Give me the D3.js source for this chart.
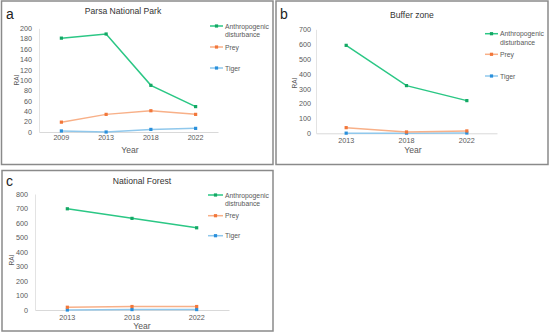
<!DOCTYPE html>
<html>
<head>
<meta charset="utf-8">
<script src="https://cdn.jsdelivr.net/npm/d3@7"></script>
<style>
  body { margin: 0; background: #fff; }
  svg { display: block; font-family: "Liberation Sans", Arial, sans-serif; }
</style>
</head>
<body>
<svg id="chart" width="550" height="334"></svg>
<script>
// Three RAI panels: Parsa NP, buffer zone, national forest.

const yearsA = ["2009", "2013", "2018", "2022"];
const anthroA = [181, 189, 90, 49];
const preyA = [19, 34, 41, 34];
const tigerA = [2, 0, 5, 7];
const ticksA = [0, 20, 40, 60, 80, 100, 120, 140, 160, 180, 200];

const yearsB = ["2013", "2018", "2022"];
const anthroB = [592, 321, 220];
const preyB = [38, 9, 16];
const tigerB = [1, 1, 2];
const ticksB = [0, 100, 200, 300, 400, 500, 600, 700];

const yearsC = ["2013", "2018", "2022"];
const anthroC = [698, 632, 567];
const preyC = [19, 24, 24];
const tigerC = [0, 3, 3];
const ticksC = [0, 100, 200, 300, 400, 500, 600, 700, 800];

const seriesStyle = {
  anthro: { line: "#2bc785", mark: "#13a864" },
  prey: { line: "#f8b088", mark: "#f2773a" },
  tiger: { line: "#90c8ec", mark: "#2a90dc" },
};

const panels = [
  {
    letter: "a", title: "Parsa National Park",
    years: yearsA, anthro: anthroA, prey: preyA, tiger: tigerA, ticks: ticksA,
    legendWords: ["Anthropogenic", "disturbance"],
    frame: [1.5, 1, 271.5, 163.5],
    plot: { left: 39, right: 218, top: 28.3, bottom: 132 },
    letterPos: [6, 19], titlePos: [123, 14], yearPos: [130, 153], xLabY: 140,
    raiPos: [16, 80], tickRight: 32,
    legend: { x0: 210, x1: 223, tx: 225, rows: [26, 34, 47, 68] },
  },
  {
    letter: "b", title: "Buffer zone",
    years: yearsB, anthro: anthroB, prey: preyB, tiger: tigerB, ticks: ticksB,
    legendWords: ["Anthropogenic", "disturbance"],
    frame: [276, 1, 272, 163.5],
    plot: { left: 316, right: 497, top: 29.3, bottom: 133.3 },
    letterPos: [280, 19], titlePos: [412, 18], yearPos: [413, 153], xLabY: 143,
    raiPos: [294, 83], tickRight: 311,
    legend: { x0: 485, x1: 498, tx: 500, rows: [33.7, 42.3, 54.3, 76] },
  },
  {
    letter: "c", title: "National Forest",
    years: yearsC, anthro: anthroC, prey: preyC, tiger: tigerC, ticks: ticksC,
    legendWords: ["Anthropogenic", "distrubance"],
    frame: [2, 170.5, 271, 160.5],
    plot: { left: 35, right: 229, top: 194, bottom: 310 },
    letterPos: [6, 186], titlePos: [142, 184], yearPos: [142, 328.5], xLabY: 319.5,
    raiPos: [11, 260], tickRight: 28,
    legend: { x0: 208, x1: 223, tx: 225, rows: [195, 203, 215.7, 235.7] },
  },
];

const svg = d3.select("#chart");
const textColor = "#595959";

function drawPanel(p) {
  const g = svg.append("g");
  const [fx, fy, fw, fh] = p.frame;
  g.append("rect")
    .attr("x", fx).attr("y", fy).attr("width", fw).attr("height", fh)
    .attr("fill", "#fff").attr("stroke", "#8a8a8a").attr("stroke-width", 1.5);

  const x = d3.scaleBand().domain(p.years).range([p.plot.left, p.plot.right]);
  const xc = (d) => x(d) + x.bandwidth() / 2;
  const y = d3.scaleLinear()
    .domain([0, d3.max(p.ticks)])
    .range([p.plot.bottom, p.plot.top]);

  // axes
  const xAxis = g.append("g")
    .attr("transform", `translate(0,${p.plot.bottom})`)
    .call(d3.axisBottom(x).tickSize(0).tickPadding(0));
  xAxis.select(".domain").attr("stroke", "#d9d9d9").attr("stroke-width", 1);
  xAxis.selectAll("text")
    .attr("y", p.xLabY - p.plot.bottom).attr("dy", 0)
    .attr("fill", textColor).attr("font-size", 7.2);

  const yAxis = g.append("g")
    .attr("transform", `translate(${p.plot.left},0)`)
    .call(d3.axisLeft(y).tickValues(p.ticks).tickSize(0).tickPadding(0));
  yAxis.select(".domain").attr("stroke", "#e3e3e3").attr("stroke-width", 1);
  yAxis.selectAll("text")
    .attr("x", p.tickRight - p.plot.left)
    .attr("fill", textColor).attr("font-size", 7.2);
  xAxis.attr("font-family", null);
  yAxis.attr("font-family", null);

  // series
  const series = [
    { key: "tiger", vals: p.tiger },
    { key: "prey", vals: p.prey },
    { key: "anthro", vals: p.anthro },
  ];
  const line = d3.line().x((d) => xc(d.year)).y((d) => y(d.v));
  for (const s of series) {
    const pts = p.years.map((yr, i) => ({ year: yr, v: s.vals[i] }));
    g.append("path").datum(pts)
      .attr("d", line).attr("fill", "none")
      .attr("stroke", seriesStyle[s.key].line).attr("stroke-width", 1.5);
    g.selectAll(null).data(pts).enter().append("rect")
      .attr("x", (d) => xc(d.year) - 1.6).attr("y", (d) => y(d.v) - 1.6)
      .attr("width", 3.2).attr("height", 3.2)
      .attr("fill", seriesStyle[s.key].mark);
  }

  // texts
  g.append("text").attr("x", p.letterPos[0]).attr("y", p.letterPos[1])
    .attr("font-size", 14).attr("fill", "#222").text(p.letter);
  g.append("text").attr("x", p.titlePos[0]).attr("y", p.titlePos[1])
    .attr("text-anchor", "middle").attr("font-size", 8.6).attr("fill", "#333")
    .text(p.title);
  g.append("text").attr("x", p.yearPos[0]).attr("y", p.yearPos[1])
    .attr("text-anchor", "middle").attr("font-size", 8.6).attr("fill", textColor)
    .text("Year");
  g.append("text")
    .attr("transform", `translate(${p.raiPos[0] + 2.5},${p.raiPos[1]}) rotate(-90)`)
    .attr("text-anchor", "middle").attr("font-size", 6.5).attr("fill", textColor)
    .text("RAI");

  // legend
  const lg = p.legend;
  const legendItems = [
    { key: "anthro", row: 0, labels: p.legendWords },
    { key: "prey", row: 2, labels: ["Prey"] },
    { key: "tiger", row: 3, labels: ["Tiger"] },
  ];
  for (const it of legendItems) {
    const ly = lg.rows[it.row];
    g.append("line").attr("x1", lg.x0).attr("x2", lg.x1)
      .attr("y1", ly).attr("y2", ly)
      .attr("stroke", seriesStyle[it.key].line).attr("stroke-width", 1.5);
    g.append("rect").attr("x", (lg.x0 + lg.x1) / 2 - 1.6).attr("y", ly - 1.6)
      .attr("width", 3.2).attr("height", 3.2).attr("fill", seriesStyle[it.key].mark);
    it.labels.forEach((t, i) => {
      g.append("text").attr("x", lg.tx).attr("y", lg.rows[it.row + i] + 2.5)
        .attr("font-size", 6.8).attr("fill", textColor).text(t);
    });
  }
}

panels.forEach(drawPanel);
</script>
</body>
</html>
